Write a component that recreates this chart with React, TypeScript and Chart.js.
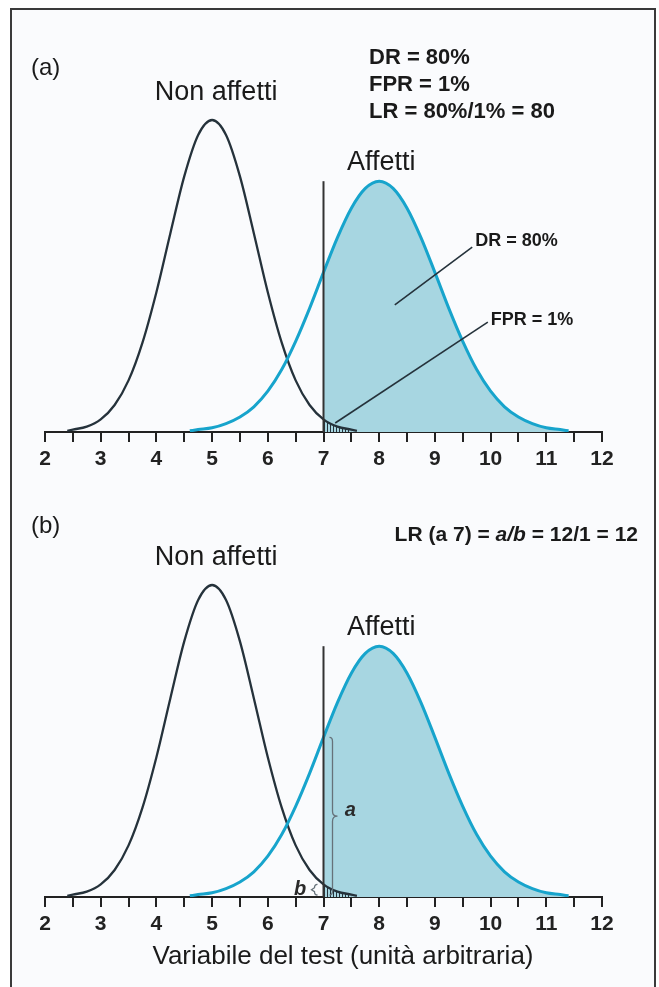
import React, { useEffect, useRef } from "react";
import { Chart, registerables } from "chart.js";

Chart.register(...registerables);

// ---------- data ----------
const X_MIN = 2;
const X_MAX = 12;
const Y_MAX = 0.6;
const xTickLabels = [2, 3, 4, 5, 6, 7, 8, 9, 10, 11, 12];
const xMinorTicks = [2.5, 3.5, 4.5, 5.5, 6.5, 7.5, 8.5, 9.5, 10.5, 11.5];

const nonAffettiX = [2.4, 2.5, 2.75, 3, 3.25, 3.5, 3.75, 4, 4.25, 4.5, 4.75, 5, 5.25, 5.5, 5.75, 6, 6.25, 6.5, 6.75, 7, 7.25, 7.5, 7.6];
const nonAffettiY = [0.002, 0.004, 0.009, 0.021, 0.045, 0.086, 0.149, 0.233, 0.331, 0.426, 0.495, 0.52, 0.495, 0.426, 0.331, 0.233, 0.149, 0.086, 0.045, 0.021, 0.009, 0.004, 0.002];

const affettiX = [4.6, 4.75, 5, 5.25, 5.5, 5.75, 6, 6.25, 6.5, 6.75, 7, 7.25, 7.5, 7.75, 8, 8.25, 8.5, 8.75, 9, 9.25, 9.5, 9.75, 10, 10.25, 10.5, 10.75, 11, 11.25, 11.4];
const affettiY = [0.002, 0.004, 0.007, 0.014, 0.025, 0.042, 0.068, 0.104, 0.151, 0.206, 0.266, 0.324, 0.373, 0.406, 0.418, 0.406, 0.373, 0.324, 0.266, 0.206, 0.151, 0.104, 0.068, 0.042, 0.025, 0.014, 0.007, 0.004, 0.002];

const nonAffettiPeakX = 5;
const affettiPeakX = 8;
const cutoff = 7;
const cutoffTop = 0.418;
const hatchEnd = 7.5;

// pointer lines of panel (a)
const drPointerX = [8.28, 9.67];
const drPointerY = [0.212, 0.308];
const fprPointerX = [7.21, 9.95];
const fprPointerY = [0.015, 0.183];

// labels of panel (b)
const aLabelX = 7.48;
const aLabelY = 0.145;
const bLabelX = 6.58;
const bLabelY = 0.013;

// ---------- style ----------
const FONT = '"Liberation Sans", Arial, Helvetica, sans-serif';
const DARK = "#25323b";
const BLUE = "#17a4cc";
const FILL = "#a7d6e1";
const TEXT = "#1a1a1a";

type Seg = { text: string; font: string };

function drawText(ctx: CanvasRenderingContext2D, text: string, x: number, y: number, font: string, align: CanvasTextAlign = "left", color = TEXT) {
  ctx.save();
  ctx.font = font;
  ctx.fillStyle = color;
  ctx.textAlign = align;
  ctx.textBaseline = "middle";
  ctx.fillText(text, x, y);
  ctx.restore();
}

function drawSegments(ctx: CanvasRenderingContext2D, segs: Seg[], x: number, y: number, align: "left" | "right") {
  ctx.save();
  ctx.textBaseline = "middle";
  ctx.textAlign = "left";
  ctx.fillStyle = TEXT;
  let total = 0;
  for (const s of segs) {
    ctx.font = s.font;
    total += ctx.measureText(s.text).width;
  }
  let cx = align === "left" ? x : x - total;
  for (const s of segs) {
    ctx.font = s.font;
    ctx.fillText(s.text, cx, y);
    cx += ctx.measureText(s.text).width;
  }
  ctx.restore();
}

function valueAt(xs: number[], ys: number[], x: number) {
  const i = xs.indexOf(x);
  return i >= 0 ? ys[i] : 0;
}

function buildConfig(panel: "a" | "b", padTop: number, scaleH: number, hatch: any) {
  const nonPts = nonAffettiX.map((x, i) => ({ x, y: nonAffettiY[i] }));
  const affPts = affettiX.map((x, i) => ({ x, y: affettiY[i] }));
  const fillPts = affPts.filter((p) => p.x >= cutoff);
  const hatchPts = nonPts.filter((p) => p.x >= cutoff && p.x <= hatchEnd);

  const common = { pointRadius: 0, pointHoverRadius: 0, tension: 0.4, cubicInterpolationMode: "monotone" as const };

  const datasets: any[] = [
    { ...common, label: "DR", data: fillPts, fill: "origin", backgroundColor: FILL, borderColor: "rgba(0,0,0,0)", borderWidth: 0, order: 10 },
    { ...common, label: "FPR", data: hatchPts, fill: "origin", backgroundColor: hatch, borderColor: "rgba(0,0,0,0)", borderWidth: 0, order: 9 },
    { ...common, label: "Non affetti", data: nonPts, fill: false, borderColor: DARK, borderWidth: 2.3, order: 3 },
    { ...common, label: "Affetti", data: affPts, fill: false, borderColor: BLUE, borderWidth: 3, order: 2 },
    { pointRadius: 0, label: "cut-off", data: [{ x: cutoff, y: 0 }, { x: cutoff, y: cutoffTop }], fill: false, borderColor: "#333", borderWidth: 2, tension: 0, order: 1 },
  ];
  if (panel === "a") {
    datasets.push({ pointRadius: 0, label: "DR pointer", data: drPointerX.map((x, i) => ({ x, y: drPointerY[i] })), fill: false, borderColor: DARK, borderWidth: 1.6, tension: 0, order: 0 });
    datasets.push({ pointRadius: 0, label: "FPR pointer", data: fprPointerX.map((x, i) => ({ x, y: fprPointerY[i] })), fill: false, borderColor: DARK, borderWidth: 1.6, tension: 0, order: 0 });
  }

  const tickValues = [...xTickLabels, ...xMinorTicks].sort((p, q) => p - q);

  const overlay = {
    id: "overlay" + panel,
    afterDraw(chart: any) {
      const ctx: CanvasRenderingContext2D = chart.ctx;
      const xs = chart.scales.x;
      const ys = chart.scales.y;
      const regular = (s: number) => `${s}px ${FONT}`;
      const bold = (s: number) => `bold ${s}px ${FONT}`;
      const boldItalic = (s: number) => `italic bold ${s}px ${FONT}`;
      if (panel === "a") {
        drawText(ctx, "(a)", 31, 68, regular(24));
        drawText(ctx, "Non affetti", xs.getPixelForValue(nonAffettiPeakX) + 4, 93, regular(27), "center");
        drawText(ctx, "Affetti", xs.getPixelForValue(affettiPeakX) + 2, 163, regular(27), "center");
        drawText(ctx, "DR = 80%", 369, 58, bold(22));
        drawText(ctx, "FPR = 1%", 369, 85, bold(22));
        drawText(ctx, "LR = 80%/1% = 80", 369, 112, bold(22));
        drawText(ctx, "DR = 80%", xs.getPixelForValue(drPointerX[1]) + 3, ys.getPixelForValue(drPointerY[1]) - 6, bold(18));
        drawText(ctx, "FPR = 1%", xs.getPixelForValue(fprPointerX[1]) + 3, ys.getPixelForValue(fprPointerY[1]) - 2, bold(18));
      } else {
        drawText(ctx, "(b)", 31, 46, regular(24));
        drawSegments(ctx, [
          { text: "LR (a 7) = ", font: bold(21) },
          { text: "a/b", font: boldItalic(21) },
          { text: " = 12/1 = 12", font: bold(21) },
        ], 638, 55, "right");
        drawText(ctx, "Non affetti", xs.getPixelForValue(nonAffettiPeakX) + 4, 78, regular(27), "center");
        drawText(ctx, "Affetti", xs.getPixelForValue(affettiPeakX) + 2, 148, regular(27), "center");

        // brace "a"
        const x0 = xs.getPixelForValue(cutoff) + 9;
        const yTop = ys.getPixelForValue(valueAt(affettiX, affettiY, cutoff));
        const yBot = ys.getPixelForValue(0) - 2;
        const mid = (yTop + yBot) / 2;
        ctx.save();
        ctx.strokeStyle = "#66727a";
        ctx.lineWidth = 1.3;
        ctx.beginPath();
        ctx.moveTo(x0 - 3, yTop);
        ctx.quadraticCurveTo(x0, yTop, x0, yTop + 4);
        ctx.lineTo(x0, mid - 5);
        ctx.quadraticCurveTo(x0, mid, x0 + 5, mid);
        ctx.quadraticCurveTo(x0, mid, x0, mid + 5);
        ctx.lineTo(x0, yBot - 4);
        ctx.quadraticCurveTo(x0, yBot, x0 - 3, yBot);
        ctx.stroke();
        // brace "b"
        const x1 = xs.getPixelForValue(cutoff) - 9;
        const yTopB = ys.getPixelForValue(valueAt(nonAffettiX, nonAffettiY, cutoff));
        const midB = (yTopB + yBot) / 2;
        ctx.beginPath();
        ctx.moveTo(x1 + 3, yTopB);
        ctx.quadraticCurveTo(x1, yTopB, x1, midB - 2);
        ctx.lineTo(x1 - 3, midB);
        ctx.lineTo(x1, midB + 2);
        ctx.quadraticCurveTo(x1, yBot, x1 + 3, yBot);
        ctx.stroke();
        ctx.restore();

        drawText(ctx, "a", xs.getPixelForValue(aLabelX), ys.getPixelForValue(aLabelY), boldItalic(20), "center", "#2a2a2a");
        drawText(ctx, "b", xs.getPixelForValue(bLabelX), ys.getPixelForValue(bLabelY), boldItalic(20), "center", "#2a2a2a");
        drawText(ctx, "Variabile del test (unità arbitraria)", 343, 477, regular(26), "center");
      }
    },
  };

  return {
    type: "line" as const,
    data: { datasets },
    options: {
      animation: false as const,
      responsive: false,
      devicePixelRatio: 1,
      events: [],
      layout: { padding: { left: 45, right: 57, top: padTop, bottom: 0 } },
      plugins: { legend: { display: false }, tooltip: { enabled: false }, title: { display: false } },
      scales: {
        x: {
          type: "linear" as const,
          min: X_MIN,
          max: X_MAX,
          afterFit: (s: any) => {
            s.height = scaleH;
          },
          afterBuildTicks: (s: any) => {
            s.ticks = tickValues.map((v) => ({ value: v }));
          },
          ticks: {
            autoSkip: false,
            maxRotation: 0,
            minRotation: 0,
            padding: 5,
            color: "#222",
            font: { family: FONT, size: 21, weight: "bold" as const },
            callback: (v: any) => (xTickLabels.includes(Number(v)) ? String(v) : ""),
          },
          grid: { drawOnChartArea: false, drawTicks: true, tickLength: 10, color: "#222", lineWidth: 2 },
          border: { display: true, color: "#222", width: 2 },
        },
        y: { display: false, min: 0, max: Y_MAX },
      },
    },
    plugins: [overlay],
  };
}

function Panel(props: { panel: "a" | "b"; top: number; height: number; padTop: number; scaleH: number }) {
  const ref = useRef<HTMLCanvasElement>(null);
  useEffect(() => {
    const canvas = ref.current;
    if (!canvas) return;
    const pc = document.createElement("canvas");
    pc.width = 3;
    pc.height = 3;
    const pctx = pc.getContext("2d")!;
    pctx.fillStyle = DARK;
    pctx.fillRect(0, 0, 1, 3);
    const hatch = canvas.getContext("2d")!.createPattern(pc, "repeat");
    const chart = new Chart(canvas, buildConfig(props.panel, props.padTop, props.scaleH, hatch) as any);
    return () => chart.destroy();
  }, []);
  return (
    <canvas
      ref={ref}
      width={659}
      height={props.height}
      style={{ position: "absolute", left: 0, top: props.top, width: 659, height: props.height, display: "block" }}
    />
  );
}

export default function App() {
  return (
    <div style={{ position: "absolute", left: 0, top: 0, width: 659, height: 987, overflow: "hidden", background: "#ffffff" }}>
      <div
        style={{
          position: "absolute",
          left: 10,
          top: 8,
          width: 642,
          height: 1000,
          border: "2px solid #3a3a3a",
          background: "#fafbfd",
        }}
      />
      <Panel panel="a" top={0} height={480} padTop={72} scaleH={48} />
      <Panel panel="b" top={480} height={507} padTop={57} scaleH={90} />
    </div>
  );
}
